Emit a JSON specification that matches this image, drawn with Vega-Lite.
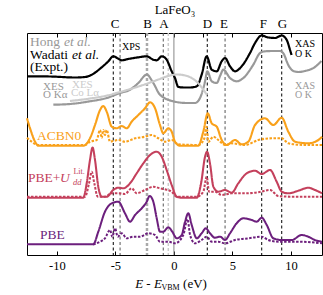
{
"$schema":"https://vega.github.io/schema/vega-lite/v6.json",
"width":295,"height":222,
"autosize":"none",
"padding":{"left":27,"top":33,"right":1,"bottom":40},
"config":{"font":"Liberation Serif","view":{"stroke":"black","strokeWidth":1},"axis":{"grid":false,"labelFont":"Liberation Serif","titleFont":"Liberation Serif"},"text":{"font":"Liberation Serif"}},
"resolve":{"axis":{"x":"independent"}},
"datasets":{
"vk":[{"x":-5.18},{"x":2.85},{"x":7.5},{"x":9.21}],
"vd":[{"x":-4.6},{"x":-0.91},{"x":4.37}],
"vg":[{"x":-2.3}],
"vl":[{"x":-0.48}],
"vz":[{"x":0}],
"curves":[
{"s":"Wadati","x":-12.55,"y":178.7},{"s":"Wadati","x":-10.58,"y":178.5},{"s":"Wadati","x":-8.45,"y":177.5},{"s":"Wadati","x":-7.59,"y":178},{"s":"Wadati","x":-7.02,"y":180.3},{"s":"Wadati","x":-6.17,"y":187.7},{"s":"Wadati","x":-5.6,"y":193.7},{"s":"Wadati","x":-5.18,"y":198.7},{"s":"Wadati","x":-4.75,"y":196.3},{"s":"Wadati","x":-4.46,"y":194.7},{"s":"Wadati","x":-3.9,"y":196},{"s":"Wadati","x":-3.04,"y":197.7},{"s":"Wadati","x":-2.32,"y":198.7},{"s":"Wadati","x":-1.76,"y":195.3},{"s":"Wadati","x":-1.47,"y":194.7},{"s":"Wadati","x":-1.04,"y":198.7},{"s":"Wadati","x":-0.62,"y":195.3},{"s":"Wadati","x":-0.19,"y":183.7},{"s":"Wadati","x":0.09,"y":177},{"s":"Wadati","x":0.38,"y":168},{"s":"Wadati","x":0.9,"y":167.5},{"s":"Wadati","x":1.38,"y":167.5},{"s":"Wadati","x":1.95,"y":168.7},{"s":"Wadati","x":2.37,"y":180.3},{"s":"Wadati","x":2.8,"y":198.7},{"s":"Wadati","x":3.23,"y":185.3},{"s":"Wadati","x":3.66,"y":183.7},{"s":"Wadati","x":4.08,"y":193.7},{"s":"Wadati","x":4.37,"y":197},{"s":"Wadati","x":4.79,"y":188.7},{"s":"Wadati","x":5.22,"y":183.7},{"s":"Wadati","x":5.79,"y":188.7},{"s":"Wadati","x":6.5,"y":202},{"s":"Wadati","x":6.93,"y":212},{"s":"Wadati","x":7.5,"y":219.5},{"s":"Wadati","x":8.06,"y":217.5},{"s":"Wadati","x":8.64,"y":217},{"s":"Wadati","x":9.21,"y":219.5},{"s":"Wadati","x":9.64,"y":215},{"s":"Wadati","x":9.92,"y":205},{"s":"Wadati","x":10.05,"y":200},
{"s":"Hong","x":-10.3,"y":150.3},{"s":"Hong","x":-8.88,"y":151},{"s":"Hong","x":-7.17,"y":153.7},{"s":"Hong","x":-5.74,"y":157},{"s":"Hong","x":-4.6,"y":162},{"s":"Hong","x":-3.75,"y":165.3},{"s":"Hong","x":-3.04,"y":172},{"s":"Hong","x":-2.32,"y":180.3},{"s":"Hong","x":-1.76,"y":172},{"s":"Hong","x":-1.19,"y":160.3},{"s":"Hong","x":-0.05,"y":153.7},{"s":"Hong","x":1.09,"y":152},{"s":"Hong","x":1.8,"y":152},{"s":"Hong","x":2.23,"y":157},{"s":"Hong","x":2.66,"y":173.7},{"s":"Hong","x":2.85,"y":183.7},{"s":"Hong","x":3.23,"y":173.7},{"s":"Hong","x":3.66,"y":172},{"s":"Hong","x":3.94,"y":179},{"s":"Hong","x":4.22,"y":185.3},{"s":"Hong","x":4.79,"y":177},{"s":"Hong","x":5.36,"y":173.7},{"s":"Hong","x":5.93,"y":177},{"s":"Hong","x":6.78,"y":190.3},{"s":"Hong","x":7.36,"y":202},{"s":"Hong","x":7.8,"y":203.7},{"s":"Hong","x":8.5,"y":204},{"s":"Hong","x":9.06,"y":204},{"s":"Hong","x":9.35,"y":201.7},{"s":"Hong","x":9.77,"y":190},{"s":"Hong","x":10.2,"y":184},{"s":"Hong","x":10.63,"y":183},{"s":"Hong","x":11.2,"y":184},{"s":"Hong","x":12.05,"y":188},{"s":"Hong","x":12.6,"y":194},
{"s":"CoLa","x":-8.88,"y":154},{"s":"CoLa","x":-7.17,"y":156.5},{"s":"CoLa","x":-5.89,"y":159},{"s":"CoLa","x":-4.6,"y":163},{"s":"CoLa","x":-2.9,"y":169},{"s":"CoLa","x":-1.44,"y":175},{"s":"CoLa","x":-0.5,"y":179},{"s":"CoLa","x":0.26,"y":180.5},{"s":"CoLa","x":1.12,"y":179},{"s":"CoLa","x":1.97,"y":173},{"s":"CoLa","x":2.83,"y":160},
{"s":"ACBN0","x":-12.55,"y":136.7},{"s":"ACBN0","x":-12.29,"y":126.7},{"s":"ACBN0","x":-11.86,"y":113.3},{"s":"ACBN0","x":-11.58,"y":109.3},{"s":"ACBN0","x":-7.74,"y":109.3},{"s":"ACBN0","x":-7.17,"y":116.7},{"s":"ACBN0","x":-6.74,"y":130},{"s":"ACBN0","x":-6.31,"y":145},{"s":"ACBN0","x":-6.03,"y":149},{"s":"ACBN0","x":-5.74,"y":143.3},{"s":"ACBN0","x":-5.31,"y":128.3},{"s":"ACBN0","x":-4.89,"y":126.7},{"s":"ACBN0","x":-4.46,"y":129},{"s":"ACBN0","x":-4.03,"y":126.7},{"s":"ACBN0","x":-3.61,"y":133.3},{"s":"ACBN0","x":-3.04,"y":140},{"s":"ACBN0","x":-2.47,"y":146.7},{"s":"ACBN0","x":-2.04,"y":152.7},{"s":"ACBN0","x":-1.61,"y":146.7},{"s":"ACBN0","x":-1.19,"y":130},{"s":"ACBN0","x":-0.91,"y":121.7},{"s":"ACBN0","x":-0.48,"y":126.7},{"s":"ACBN0","x":-0.19,"y":123.3},{"s":"ACBN0","x":0.09,"y":113.3},{"s":"ACBN0","x":0.52,"y":109.3},{"s":"ACBN0","x":2.08,"y":109.3},{"s":"ACBN0","x":2.51,"y":123.3},{"s":"ACBN0","x":2.89,"y":141.7},{"s":"ACBN0","x":3.23,"y":131.7},{"s":"ACBN0","x":3.66,"y":128.3},{"s":"ACBN0","x":4.08,"y":115},{"s":"ACBN0","x":4.51,"y":110},{"s":"ACBN0","x":5.22,"y":115},{"s":"ACBN0","x":5.79,"y":110.7},{"s":"ACBN0","x":6.36,"y":113.3},{"s":"ACBN0","x":6.93,"y":130},{"s":"ACBN0","x":7.78,"y":136.7},{"s":"ACBN0","x":8.49,"y":130},{"s":"ACBN0","x":9.21,"y":137.3},{"s":"ACBN0","x":9.77,"y":123.3},{"s":"ACBN0","x":10.35,"y":113.3},{"s":"ACBN0","x":11.48,"y":111.7},{"s":"ACBN0","x":12.34,"y":115},{"s":"ACBN0","x":12.65,"y":118.3},
{"s":"ACBN0_O","x":-12.55,"y":117.3},{"s":"ACBN0_O","x":-12.15,"y":113.3},{"s":"ACBN0_O","x":-11.58,"y":110},{"s":"ACBN0_O","x":-7.59,"y":110},{"s":"ACBN0_O","x":-7.17,"y":113.3},{"s":"ACBN0_O","x":-6.6,"y":115},{"s":"ACBN0_O","x":-6.31,"y":125},{"s":"ACBN0_O","x":-6.17,"y":117},{"s":"ACBN0_O","x":-6.03,"y":125},{"s":"ACBN0_O","x":-5.89,"y":120},{"s":"ACBN0_O","x":-5.74,"y":125},{"s":"ACBN0_O","x":-5.46,"y":113.3},{"s":"ACBN0_O","x":-4.75,"y":115},{"s":"ACBN0_O","x":-4.18,"y":113.3},{"s":"ACBN0_O","x":-3.32,"y":116.7},{"s":"ACBN0_O","x":-2.47,"y":118.3},{"s":"ACBN0_O","x":-1.9,"y":120},{"s":"ACBN0_O","x":-1.33,"y":116.7},{"s":"ACBN0_O","x":-0.76,"y":113.3},{"s":"ACBN0_O","x":-0.19,"y":115},{"s":"ACBN0_O","x":0.38,"y":110.7},{"s":"ACBN0_O","x":2.08,"y":110},{"s":"ACBN0_O","x":2.6,"y":116.7},{"s":"ACBN0_O","x":2.8,"y":128.3},{"s":"ACBN0_O","x":2.94,"y":113.3},{"s":"ACBN0_O","x":3.37,"y":118.3},{"s":"ACBN0_O","x":3.79,"y":115},{"s":"ACBN0_O","x":4.37,"y":110},{"s":"ACBN0_O","x":4.94,"y":111.7},{"s":"ACBN0_O","x":6.07,"y":110},{"s":"ACBN0_O","x":7.21,"y":115},{"s":"ACBN0_O","x":8.36,"y":116.7},{"s":"ACBN0_O","x":9.21,"y":116.7},{"s":"ACBN0_O","x":9.77,"y":111.7},{"s":"ACBN0_O","x":11.2,"y":110},{"s":"ACBN0_O","x":12.65,"y":110},
{"s":"PBEU","x":-12.55,"y":57.3},{"s":"PBEU","x":-7.74,"y":57.3},{"s":"PBEU","x":-7.45,"y":71.7},{"s":"PBEU","x":-7.17,"y":95},{"s":"PBEU","x":-6.95,"y":107.5},{"s":"PBEU","x":-6.74,"y":95},{"s":"PBEU","x":-6.46,"y":68.3},{"s":"PBEU","x":-6.17,"y":58.3},{"s":"PBEU","x":-5.74,"y":58.3},{"s":"PBEU","x":-5.18,"y":65},{"s":"PBEU","x":-4.75,"y":67.3},{"s":"PBEU","x":-4.32,"y":66.7},{"s":"PBEU","x":-3.75,"y":71.7},{"s":"PBEU","x":-3.18,"y":81.7},{"s":"PBEU","x":-2.61,"y":91.7},{"s":"PBEU","x":-2.04,"y":100},{"s":"PBEU","x":-1.47,"y":103.3},{"s":"PBEU","x":-1.04,"y":98.3},{"s":"PBEU","x":-0.62,"y":85},{"s":"PBEU","x":-0.19,"y":70},{"s":"PBEU","x":0.24,"y":58.3},{"s":"PBEU","x":0.67,"y":57.3},{"s":"PBEU","x":1.95,"y":57.3},{"s":"PBEU","x":2.32,"y":71.7},{"s":"PBEU","x":2.66,"y":98.3},{"s":"PBEU","x":2.83,"y":103.3},{"s":"PBEU","x":3.08,"y":91.7},{"s":"PBEU","x":3.37,"y":68.3},{"s":"PBEU","x":3.79,"y":63.3},{"s":"PBEU","x":4.37,"y":65},{"s":"PBEU","x":4.94,"y":62.3},{"s":"PBEU","x":5.5,"y":71.7},{"s":"PBEU","x":6.22,"y":81.7},{"s":"PBEU","x":6.93,"y":84.3},{"s":"PBEU","x":7.5,"y":81},{"s":"PBEU","x":8.21,"y":85},{"s":"PBEU","x":8.78,"y":73.3},{"s":"PBEU","x":9.21,"y":63.3},{"s":"PBEU","x":9.77,"y":61.7},{"s":"PBEU","x":10.63,"y":64.3},{"s":"PBEU","x":11.48,"y":67.3},{"s":"PBEU","x":12.05,"y":65},{"s":"PBEU","x":12.65,"y":61.7},
{"s":"PBEU_O","x":-12.55,"y":58.3},{"s":"PBEU_O","x":-7.59,"y":58.3},{"s":"PBEU_O","x":-7.25,"y":71.7},{"s":"PBEU_O","x":-7.02,"y":83.3},{"s":"PBEU_O","x":-6.8,"y":71.7},{"s":"PBEU_O","x":-6.51,"y":58.3},{"s":"PBEU_O","x":-5.89,"y":58.3},{"s":"PBEU_O","x":-5.31,"y":61.7},{"s":"PBEU_O","x":-4.75,"y":61.7},{"s":"PBEU_O","x":-4.18,"y":61},{"s":"PBEU_O","x":-3.61,"y":66.7},{"s":"PBEU_O","x":-3.18,"y":61.7},{"s":"PBEU_O","x":-2.47,"y":65},{"s":"PBEU_O","x":-1.76,"y":68.3},{"s":"PBEU_O","x":-1.19,"y":66.7},{"s":"PBEU_O","x":-0.76,"y":65.7},{"s":"PBEU_O","x":-0.19,"y":63.3},{"s":"PBEU_O","x":0.24,"y":58.3},{"s":"PBEU_O","x":1.95,"y":58.3},{"s":"PBEU_O","x":2.51,"y":63.3},{"s":"PBEU_O","x":2.8,"y":78.3},{"s":"PBEU_O","x":3.0,"y":63.3},{"s":"PBEU_O","x":3.51,"y":63.3},{"s":"PBEU_O","x":4.08,"y":60},{"s":"PBEU_O","x":4.94,"y":61.7},{"s":"PBEU_O","x":6.07,"y":61.7},{"s":"PBEU_O","x":7.21,"y":62.7},{"s":"PBEU_O","x":8.21,"y":65},{"s":"PBEU_O","x":8.92,"y":59},{"s":"PBEU_O","x":10.06,"y":58.3},{"s":"PBEU_O","x":12.65,"y":58.3},
{"s":"PBE","x":-12.55,"y":10.7},{"s":"PBE","x":-6.89,"y":10.7},{"s":"PBE","x":-6.46,"y":23.3},{"s":"PBE","x":-5.89,"y":43.3},{"s":"PBE","x":-5.31,"y":51.7},{"s":"PBE","x":-4.75,"y":53.3},{"s":"PBE","x":-4.18,"y":41.7},{"s":"PBE","x":-3.75,"y":33.3},{"s":"PBE","x":-3.32,"y":40},{"s":"PBE","x":-2.75,"y":46.7},{"s":"PBE","x":-2.32,"y":53.3},{"s":"PBE","x":-2.08,"y":59},{"s":"PBE","x":-1.76,"y":53.3},{"s":"PBE","x":-1.47,"y":36.7},{"s":"PBE","x":-1.19,"y":23.3},{"s":"PBE","x":-0.91,"y":23.3},{"s":"PBE","x":-0.48,"y":27.7},{"s":"PBE","x":-0.14,"y":23.3},{"s":"PBE","x":0.24,"y":16.7},{"s":"PBE","x":0.67,"y":20},{"s":"PBE","x":0.95,"y":33.3},{"s":"PBE","x":1.23,"y":41.7},{"s":"PBE","x":1.52,"y":30},{"s":"PBE","x":1.95,"y":16.7},{"s":"PBE","x":2.37,"y":21.7},{"s":"PBE","x":2.72,"y":26.7},{"s":"PBE","x":3.08,"y":21.7},{"s":"PBE","x":3.51,"y":17.3},{"s":"PBE","x":3.94,"y":18.3},{"s":"PBE","x":4.37,"y":15},{"s":"PBE","x":4.79,"y":21.7},{"s":"PBE","x":5.36,"y":31.7},{"s":"PBE","x":5.93,"y":36.7},{"s":"PBE","x":6.65,"y":35},{"s":"PBE","x":7.07,"y":33.3},{"s":"PBE","x":7.5,"y":37.3},{"s":"PBE","x":7.93,"y":30},{"s":"PBE","x":8.49,"y":16.7},{"s":"PBE","x":9.21,"y":15},{"s":"PBE","x":10.06,"y":15},{"s":"PBE","x":10.92,"y":20},{"s":"PBE","x":11.48,"y":18.3},{"s":"PBE","x":12.05,"y":15},{"s":"PBE","x":12.65,"y":13.3},
{"s":"PBE_O","x":-6.89,"y":10.5},{"s":"PBE_O","x":-6.31,"y":13.3},{"s":"PBE_O","x":-5.89,"y":16.7},{"s":"PBE_O","x":-5.46,"y":25},{"s":"PBE_O","x":-5.26,"y":18.3},{"s":"PBE_O","x":-5.03,"y":26.7},{"s":"PBE_O","x":-4.8,"y":18.3},{"s":"PBE_O","x":-4.46,"y":21.7},{"s":"PBE_O","x":-4.03,"y":16.7},{"s":"PBE_O","x":-3.47,"y":18.3},{"s":"PBE_O","x":-2.9,"y":18.3},{"s":"PBE_O","x":-2.19,"y":21.7},{"s":"PBE_O","x":-1.61,"y":20},{"s":"PBE_O","x":-1.19,"y":13.3},{"s":"PBE_O","x":-0.48,"y":13.3},{"s":"PBE_O","x":0.09,"y":11.7},{"s":"PBE_O","x":0.8,"y":20},{"s":"PBE_O","x":1.16,"y":36},{"s":"PBE_O","x":1.38,"y":20},{"s":"PBE_O","x":1.8,"y":11.7},{"s":"PBE_O","x":2.37,"y":15},{"s":"PBE_O","x":2.8,"y":18.3},{"s":"PBE_O","x":3.23,"y":13.3},{"s":"PBE_O","x":3.79,"y":13.3},{"s":"PBE_O","x":4.37,"y":11.7},{"s":"PBE_O","x":5.22,"y":15},{"s":"PBE_O","x":6.36,"y":16.7},{"s":"PBE_O","x":7.5,"y":18.3},{"s":"PBE_O","x":8.06,"y":15},{"s":"PBE_O","x":8.92,"y":13.3},{"s":"PBE_O","x":10.63,"y":13.3},{"s":"PBE_O","x":12.65,"y":11.7}
],
"t14":[{"t":"Hong","x":-12.29,"y":213,"s":"Hong"},{"t":"Wadati","x":-12.29,"y":200,"s":"Wadati"},{"t":"(Expt.)","x":-12.29,"y":188,"s":"Wadati"},{"t":"ACBN0","x":-11.7,"y":119,"s":"ACBN0"},{"t":"PBE+","x":-12.46,"y":77,"s":"PBEU"},{"t":"PBE","x":-11.44,"y":20,"s":"PBE"}],
"i14":[{"t":"et al.","x":-9.39,"y":213,"s":"Hong"},{"t":"et al.","x":-8.7,"y":200,"s":"Wadati"},{"t":"U","x":-9.74,"y":77,"s":"PBEU"}],
"t11":[{"t":"XES","x":-11.18,"y":168.5,"s":"Hong"},{"t":"O Kα","x":-11.18,"y":160,"s":"Hong"},{"t":"XES","x":-8.71,"y":170.5,"s":"CoLa"},{"t":"Co Lα","x":-8.79,"y":162,"s":"CoLa"}],
"t10":[{"t":"XPS","x":-4.43,"y":208,"s":"Wadati"},{"t":"XAS","x":10.35,"y":211,"s":"Wadati"},{"t":"O K","x":10.35,"y":201,"s":"Wadati"},{"t":"XAS","x":10.35,"y":169,"s":"Hong"},{"t":"O K","x":10.35,"y":160,"s":"Hong"}],
"t8":[{"t":"Lit.","x":-8.58,"y":83.5,"s":"PBEU"},{"t":"VBM","x":-1.06,"y":-33,"s":"Wadati"}],
"i8":[{"t":"dd","x":-8.62,"y":73,"s":"PBEU"}],
"c13":[{"t":"C","x":-5.03,"y":231,"s":"Wadati"},{"t":"B","x":-2.26,"y":231,"s":"Wadati"},{"t":"A","x":-0.85,"y":231,"s":"Wadati"},{"t":"D","x":2.87,"y":231,"s":"Wadati"},{"t":"E","x":4.28,"y":231,"s":"Wadati"},{"t":"F","x":7.65,"y":231,"s":"Wadati"},{"t":"G","x":9.28,"y":231,"s":"Wadati"},{"t":"LaFeO₃","x":0.09,"y":245,"s":"Wadati"},{"t":"(eV)","x":1.8,"y":-29,"s":"Wadati"}],
"ci13":[{"t":"E - E","x":-2.17,"y":-29,"s":"Wadati"}]
},
"layer":[
{"data":{"name":"vz"},"mark":{"type":"rule","color":"#888888","strokeWidth":1},"encoding":{"x":{"field":"x","type":"quantitative","scale":{"domain":[-12.55,12.65],"nice":false,"zero":false},"axis":null}}},
{"data":{"name":"vl"},"mark":{"type":"rule","color":"#cccccc","strokeWidth":1.5,"strokeDash":[3,2]},"encoding":{"x":{"field":"x","type":"quantitative","scale":{"domain":[-12.55,12.65],"nice":false,"zero":false},"axis":null}}},
{"data":{"name":"vg"},"mark":{"type":"rule","color":"#aaaaaa","strokeWidth":2.5,"strokeDash":[3,2]},"encoding":{"x":{"field":"x","type":"quantitative","scale":{"domain":[-12.55,12.65],"nice":false,"zero":false},"axis":null}}},
{"data":{"name":"vd"},"mark":{"type":"rule","color":"#555555","strokeWidth":1,"strokeDash":[3,2.5]},"encoding":{"x":{"field":"x","type":"quantitative","scale":{"domain":[-12.55,12.65],"nice":false,"zero":false},"axis":null}}},
{"data":{"name":"vk"},"mark":{"type":"rule","color":"#000000","strokeWidth":1,"strokeDash":[3,2.5]},"encoding":{"x":{"field":"x","type":"quantitative","scale":{"domain":[-12.55,12.65],"nice":false,"zero":false},"axis":{"orient":"bottom","values":[-10,-5,0,5,10],"labelExpr":"datum.value < 0 ? '-' + abs(datum.value) : '' + datum.value","tickSize":-4,"tickColor":"black","labelFontSize":12.5,"labelColor":"black","labelFont":"Liberation Serif","labelPadding":8,"labelFlush":false,"domain":false,"title":null,"grid":false}}}},
{"data":{"name":"curves"},"mark":{"type":"line","interpolate":"monotone"},
"encoding":{
"x":{"field":"x","type":"quantitative","scale":{"domain":[-12.55,12.65],"nice":false,"zero":false},"axis":{"orient":"top","values":[-10,-7.5,-5,-2.5,0,2.5,5,7.5,10],"labels":false,"tickSize":-4,"tickColor":"black","domain":false,"title":null,"grid":false}},
"y":{"field":"y","type":"quantitative","scale":{"domain":[0,222],"nice":false,"zero":false},"axis":{"title":"DOS (arb. units)","titleFont":"Liberation Serif","titleFontSize":13,"titleFontWeight":"normal","titleColor":"black","titlePadding":12,"labels":false,"ticks":false,"domain":false,"grid":false}},
"detail":{"field":"s","type":"nominal"},
"color":{"field":"s","type":"nominal","legend":null,"scale":{"domain":["Wadati","Hong","CoLa","ACBN0","ACBN0_O","PBEU","PBEU_O","PBE","PBE_O"],"range":["#000000","#999999","#cccccc","#f9a11b","#f9a11b","#c4405c","#c4405c","#6c1f7d","#6c1f7d"]}},
"strokeDash":{"field":"s","type":"nominal","legend":null,"scale":{"domain":["Wadati","Hong","CoLa","ACBN0","ACBN0_O","PBEU","PBEU_O","PBE","PBE_O"],"range":[[1,0],[1,0],[1,0],[1,0],[2.5,1.5],[1,0],[2.5,1.5],[1,0],[2.5,1.5]]}},
"strokeWidth":{"field":"s","type":"nominal","legend":null,"scale":{"domain":["Wadati","Hong","CoLa","ACBN0","ACBN0_O","PBEU","PBEU_O","PBE","PBE_O"],"range":[2.2,2,2,1.8,1.5,1.8,1.5,1.8,1.5]}}
}},
{"data":{"name":"t14"},"mark":{"type":"text","font":"Liberation Serif","align":"left","baseline":"middle","fontSize":13.5},"encoding":{"x":{"field":"x","type":"quantitative","scale":{"domain":[-12.55,12.65],"nice":false,"zero":false},"axis":null},"y":{"field":"y","type":"quantitative","scale":{"domain":[0,222],"nice":false,"zero":false},"axis":null},"text":{"field":"t"},"color":{"field":"s","type":"nominal","legend":null,"scale":{"domain":["Wadati","Hong","CoLa","ACBN0","ACBN0_O","PBEU","PBEU_O","PBE","PBE_O"],"range":["#000000","#999999","#cccccc","#f9a11b","#f9a11b","#c4405c","#c4405c","#6c1f7d","#6c1f7d"]}}}},
{"data":{"name":"i14"},"mark":{"type":"text","font":"Liberation Serif","align":"left","baseline":"middle","fontSize":13.5,"fontStyle":"italic"},"encoding":{"x":{"field":"x","type":"quantitative","scale":{"domain":[-12.55,12.65],"nice":false,"zero":false},"axis":null},"y":{"field":"y","type":"quantitative","scale":{"domain":[0,222],"nice":false,"zero":false},"axis":null},"text":{"field":"t"},"color":{"field":"s","type":"nominal","legend":null,"scale":{"domain":["Wadati","Hong","CoLa","ACBN0","ACBN0_O","PBEU","PBEU_O","PBE","PBE_O"],"range":["#000000","#999999","#cccccc","#f9a11b","#f9a11b","#c4405c","#c4405c","#6c1f7d","#6c1f7d"]}}}},
{"data":{"name":"t11"},"mark":{"type":"text","font":"Liberation Serif","align":"left","baseline":"middle","fontSize":11},"encoding":{"x":{"field":"x","type":"quantitative","scale":{"domain":[-12.55,12.65],"nice":false,"zero":false},"axis":null},"y":{"field":"y","type":"quantitative","scale":{"domain":[0,222],"nice":false,"zero":false},"axis":null},"text":{"field":"t"},"color":{"field":"s","type":"nominal","legend":null,"scale":{"domain":["Wadati","Hong","CoLa","ACBN0","ACBN0_O","PBEU","PBEU_O","PBE","PBE_O"],"range":["#000000","#999999","#cccccc","#f9a11b","#f9a11b","#c4405c","#c4405c","#6c1f7d","#6c1f7d"]}}}},
{"data":{"name":"t10"},"mark":{"type":"text","font":"Liberation Serif","align":"left","baseline":"middle","fontSize":10},"encoding":{"x":{"field":"x","type":"quantitative","scale":{"domain":[-12.55,12.65],"nice":false,"zero":false},"axis":null},"y":{"field":"y","type":"quantitative","scale":{"domain":[0,222],"nice":false,"zero":false},"axis":null},"text":{"field":"t"},"color":{"field":"s","type":"nominal","legend":null,"scale":{"domain":["Wadati","Hong","CoLa","ACBN0","ACBN0_O","PBEU","PBEU_O","PBE","PBE_O"],"range":["#000000","#999999","#cccccc","#f9a11b","#f9a11b","#c4405c","#c4405c","#6c1f7d","#6c1f7d"]}}}},
{"data":{"name":"t8"},"mark":{"type":"text","font":"Liberation Serif","align":"left","baseline":"middle","fontSize":8},"encoding":{"x":{"field":"x","type":"quantitative","scale":{"domain":[-12.55,12.65],"nice":false,"zero":false},"axis":null},"y":{"field":"y","type":"quantitative","scale":{"domain":[0,222],"nice":false,"zero":false},"axis":null},"text":{"field":"t"},"color":{"field":"s","type":"nominal","legend":null,"scale":{"domain":["Wadati","Hong","CoLa","ACBN0","ACBN0_O","PBEU","PBEU_O","PBE","PBE_O"],"range":["#000000","#999999","#cccccc","#f9a11b","#f9a11b","#c4405c","#c4405c","#6c1f7d","#6c1f7d"]}}}},
{"data":{"name":"i8"},"mark":{"type":"text","font":"Liberation Serif","align":"left","baseline":"middle","fontSize":8.5,"fontStyle":"italic"},"encoding":{"x":{"field":"x","type":"quantitative","scale":{"domain":[-12.55,12.65],"nice":false,"zero":false},"axis":null},"y":{"field":"y","type":"quantitative","scale":{"domain":[0,222],"nice":false,"zero":false},"axis":null},"text":{"field":"t"},"color":{"field":"s","type":"nominal","legend":null,"scale":{"domain":["Wadati","Hong","CoLa","ACBN0","ACBN0_O","PBEU","PBEU_O","PBE","PBE_O"],"range":["#000000","#999999","#cccccc","#f9a11b","#f9a11b","#c4405c","#c4405c","#6c1f7d","#6c1f7d"]}}}},
{"data":{"name":"c13"},"mark":{"type":"text","font":"Liberation Serif","align":"center","baseline":"middle","fontSize":13},"encoding":{"x":{"field":"x","type":"quantitative","scale":{"domain":[-12.55,12.65],"nice":false,"zero":false},"axis":null},"y":{"field":"y","type":"quantitative","scale":{"domain":[0,222],"nice":false,"zero":false},"axis":null},"text":{"field":"t"},"color":{"field":"s","type":"nominal","legend":null,"scale":{"domain":["Wadati","Hong","CoLa","ACBN0","ACBN0_O","PBEU","PBEU_O","PBE","PBE_O"],"range":["#000000","#999999","#cccccc","#f9a11b","#f9a11b","#c4405c","#c4405c","#6c1f7d","#6c1f7d"]}}}},
{"data":{"name":"ci13"},"mark":{"type":"text","font":"Liberation Serif","align":"center","baseline":"middle","fontSize":13,"fontStyle":"italic"},"encoding":{"x":{"field":"x","type":"quantitative","scale":{"domain":[-12.55,12.65],"nice":false,"zero":false},"axis":null},"y":{"field":"y","type":"quantitative","scale":{"domain":[0,222],"nice":false,"zero":false},"axis":null},"text":{"field":"t"},"color":{"field":"s","type":"nominal","legend":null,"scale":{"domain":["Wadati","Hong","CoLa","ACBN0","ACBN0_O","PBEU","PBEU_O","PBE","PBE_O"],"range":["#000000","#999999","#cccccc","#f9a11b","#f9a11b","#c4405c","#c4405c","#6c1f7d","#6c1f7d"]}}}}
]
}
